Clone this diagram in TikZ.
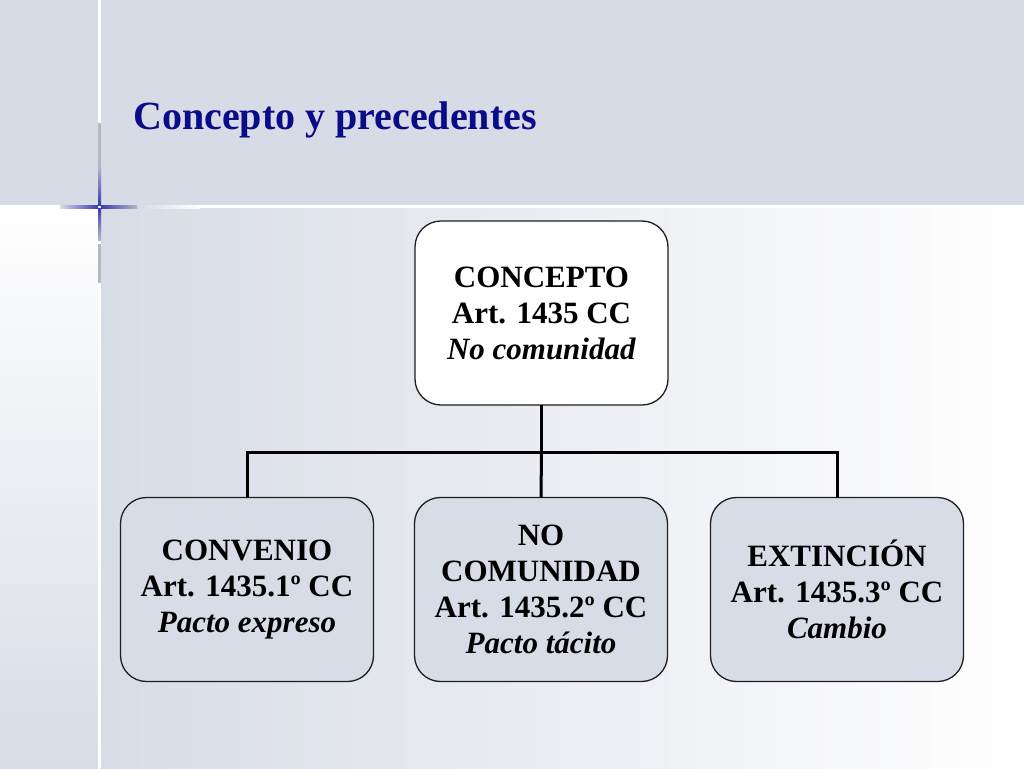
\documentclass[tikz,border=0pt]{standalone}
\usepackage{fontspec}
\setmainfont{Liberation Serif}
\usepackage{xcolor}
\definecolor{slideBand}{HTML}{D6DBE6}
\definecolor{slideGray}{HTML}{D8DCE6}
\definecolor{slideTitle}{HTML}{0B0B8A}
\definecolor{crossBlue}{HTML}{3C3CB4}
\definecolor{crossGray}{HTML}{B4B8C4}
\definecolor{boxFill}{HTML}{D8DCE6}
\definecolor{boxBorder}{HTML}{1E1E1E}
\usetikzlibrary{positioning,calc}
\tikzset{
    titletext/.style={
        font=\fontsize{40}{46}\selectfont\bfseries,
        color=slideTitle,
        inner sep=0pt
    },
    topbox/.style={
        draw=boxBorder,
        fill=white,
        rectangle,
        rounded corners=26pt,
        align=center,
        minimum height=184pt,
        minimum width=253pt,
        line width=1.3pt,
        outer sep=0pt,
        font=\fontsize{31}{36}\selectfont\bfseries
    },
    subbox/.style={
        topbox,
        fill=boxFill
    },
    conn/.style={
        line width=3pt,
        color=black
    }
}

\begin{document}
\begin{tikzpicture}[x=1pt,y=-1pt]
    % Slide background
    \useasboundingbox (0,0) rectangle (1024,768);
    \fill[slideBand] (0,0) rectangle (1024,205);
    \shade[left color=slideGray, right color=white] (100,207) rectangle (1024,768);
    \shade[top color=white, bottom color=slideGray] (0,207) rectangle (98,768);
    \fill[white] (98,0) rectangle (101,768);
    \shade[left color=slideBand, right color=white] (137,205) rectangle (200,208);
    \fill[white] (200,205) rectangle (1024,208);
    
    % Corner cross
    \fill[crossGray] (98,123) rectangle (101,166);
    \fill[crossGray] (98,244) rectangle (101,283);
    \shade[top color=crossGray, bottom color=crossBlue] (98,166) rectangle (101,205);
    \shade[top color=crossBlue, bottom color=crossGray] (98,208) rectangle (101,240);
    \shade[left color=slideBand, right color=crossBlue] (60,205) rectangle (98,208);
    \shade[left color=crossBlue, right color=crossGray] (101,205) rectangle (137,208);
    
    % Title
    \node[titletext, anchor=base west] (title) at (133,129) {Concepto y precedentes};
    
    % Boxes
    \node[topbox] (concepto) at (541.5,313) {CONCEPTO\\Art. 1435 CC\\\textit{No comunidad}};
    \node[subbox] (nocomunidad) at (541,589.5) {NO\\COMUNIDAD\\Art. 1435.2º CC\\\textit{Pacto tácito}};
    \node[subbox, left=41pt of nocomunidad] (convenio) {CONVENIO\\Art. 1435.1º CC\\\textit{Pacto expreso}};
    \node[subbox, right=43pt of nocomunidad] (extincion) {EXTINCIÓN\\Art. 1435.3º CC\\\textit{Cambio}};
    
    % Connectors
    \coordinate (hub) at ($(concepto.south)+(0,47)$);
    \draw[conn] (concepto.south) -- (hub);
    \draw[conn] (hub) -- (nocomunidad.north);
    \draw[conn] (hub) -| (convenio.north);
    \draw[conn] (hub) -| (extincion.north);
\end{tikzpicture}
\end{document}
